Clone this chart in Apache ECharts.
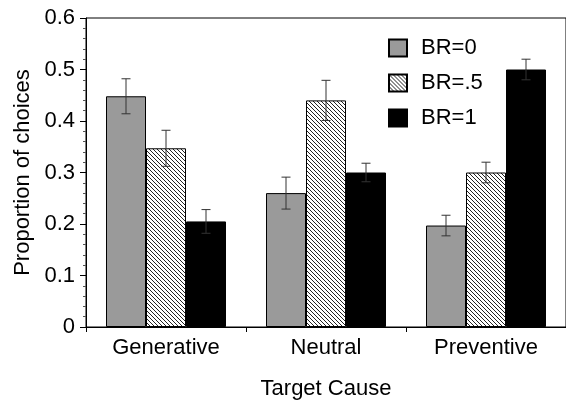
<!DOCTYPE html>
<html>
<head>
<meta charset="utf-8">
<script src="https://cdn.jsdelivr.net/npm/echarts@6/dist/echarts.min.js"></script>
<style>
html,body{margin:0;padding:0;background:#fff;}
#chart{width:566px;height:405px;}
</style>
</head>
<body>
<div id="chart"></div>
<script>
var categories = ['Generative', 'Neutral', 'Preventive'];
var seriesNames = ['BR=0', 'BR=.5', 'BR=1'];
var valuesBR0 = [0.448, 0.260, 0.197];
var valuesBR05 = [0.347, 0.440, 0.300];
var valuesBR1 = [0.205, 0.300, 0.500];
var errBR0 = [0.034, 0.031, 0.020];
var errBR05 = [0.035, 0.039, 0.020];
var errBR1 = [0.023, 0.018, 0.020];
var yTicks = [0, 0.1, 0.2, 0.3, 0.4, 0.5, 0.6];

var allValues = [valuesBR0, valuesBR05, valuesBR1];
var allErrs = [errBR0, errBR05, errBR1];

// hatch pattern
var P = 4;
var pc = document.createElement('canvas');
pc.width = P; pc.height = P;
var ctx = pc.getContext('2d');
ctx.fillStyle = '#fff';
ctx.fillRect(0, 0, P, P);
ctx.strokeStyle = '#222';
ctx.lineWidth = 1;
ctx.beginPath();
for (var k = -P; k <= 2 * P; k += P) {
  ctx.moveTo(k, 0);
  ctx.lineTo(k + P, P);
}
ctx.stroke();

var fills = ['#9a9a9a', {image: pc, repeat: 'repeat'}, '#000'];
var font = 'Liberation Sans, Arial, Helvetica, sans-serif';

var series = [];
for (var s = 0; s < 3; s++) {
  series.push({
    name: seriesNames[s],
    type: 'bar',
    data: allValues[s],
    barWidth: '25%',
    barGap: '0%',
    itemStyle: {color: fills[s], borderColor: '#000', borderWidth: 1},
    emphasis: {disabled: true},
    z: 2
  });
}
for (var s2 = 0; s2 < 3; s2++) {
  (function (si) {
    var data = categories.map(function (c, i) {
      return [i, allValues[si][i] - allErrs[si][i], allValues[si][i] + allErrs[si][i]];
    });
    series.push({
      type: 'custom',
      data: data,
      z: 5,
      silent: true,
      renderItem: function (params, api) {
        var i = api.value(0);
        var lo = api.coord([i, api.value(1)]);
        var hi = api.coord([i, api.value(2)]);
        var band = api.size([1, 0])[0];
        var x = lo[0] + (si - 1) * band * 0.25;
        var cap = 4.5;
        var st = {stroke: '#333', lineWidth: 1, fill: null};
        return {
          type: 'group',
          children: [
            {type: 'line', shape: {x1: x, y1: lo[1], x2: x, y2: hi[1]}, style: st},
            {type: 'line', shape: {x1: x - cap, y1: hi[1], x2: x + cap, y2: hi[1]}, style: st},
            {type: 'line', shape: {x1: x - cap, y1: lo[1], x2: x + cap, y2: lo[1]}, style: st}
          ]
        };
      }
    });
  })(s2);
}

var chart = echarts.init(document.getElementById('chart'), null, {renderer: 'canvas'});
chart.setOption({
  animation: false,
  backgroundColor: '#fff',
  textStyle: {fontFamily: font},
  grid: {left: 86, top: 18, width: 489, height: 311, show: true, borderColor: '#000', borderWidth: 1, backgroundColor: 'transparent'},
  legend: {
    data: seriesNames,
    orient: 'vertical',
    left: 383,
    top: 32,
    itemWidth: 18,
    itemHeight: 17,
    itemGap: 13,
    icon: 'rect',
    textStyle: {fontFamily: font, fontSize: 22, color: '#000', padding: [0, 0, 0, 9]},
    selectedMode: false
  },
  xAxis: {
    type: 'category',
    data: categories,
    name: 'Target Cause',
    nameLocation: 'middle',
    nameGap: 51,
    nameTextStyle: {fontFamily: font, fontSize: 22, color: '#000'},
    axisLine: {lineStyle: {color: '#000', width: 1}},
    axisTick: {show: true, length: 5, lineStyle: {color: '#000'}},
    axisLabel: {fontFamily: font, fontSize: 22, color: '#000', margin: 10},
    splitLine: {show: false}
  },
  yAxis: {
    type: 'value',
    min: yTicks[0],
    max: yTicks[yTicks.length - 1],
    interval: 0.1,
    name: 'Proportion of choices',
    nameLocation: 'middle',
    nameGap: 50,
    nameTextStyle: {fontFamily: font, fontSize: 22, color: '#000'},
    axisLine: {show: true, lineStyle: {color: '#000', width: 1}},
    axisTick: {show: true, length: 6, lineStyle: {color: '#000'}},
    minorTick: {show: true, splitNumber: 5, length: 3, lineStyle: {color: '#555'}},
    axisLabel: {fontFamily: font, fontSize: 22, color: '#000', margin: 11,
      formatter: function (v) { return v === 0 ? '0' : v.toFixed(1); }},
    splitLine: {show: false}
  },
  series: series
});
</script>
</body>
</html>
